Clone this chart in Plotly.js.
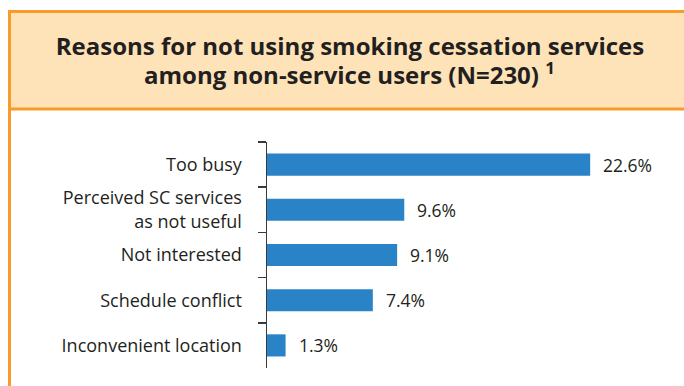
<!DOCTYPE html>
<html>
<head>
<meta charset="utf-8">
<script src="https://cdn.plot.ly/plotly-3.0.1.min.js"></script>
<style>html,body{margin:0;padding:0;background:#fff;}#chart{width:684px;height:386px;}</style>
</head>
<body>
<div id="chart"></div>
<script>
const categories = ["Too busy", "Perceived SC services<br>as not useful", "Not interested", "Schedule conflict", "Inconvenient location"];
const values = [22.6, 9.6, 9.1, 7.4, 1.3];
const valueLabels = ["22.6%", "9.6%", "9.1%", "7.4%", "1.3%"];
const titleLine1 = "Reasons for not using smoking cessation services";
const titleLine2 = "among non-service users (N=230) <sup>1</sup>";

const W = 684, H = 386, L = 267, R = 0, T = 142, B = 18;
const PW = W - L - R, PH = H - T - B;
const px = v => (v - L) / PW;
const py = v => (H - B - v) / PH;

const orange = "#F89B2A";
const beige = "#FEE3B9";
const ink = "#231F20";
const font = "Open Sans, Liberation Sans, sans-serif";

const trace = {
  type: "bar",
  orientation: "h",
  x: values,
  y: categories,
  marker: {color: "#2A83C6"},
  hoverinfo: "skip"
};

const annotations = values.map((v, i) => ({
  x: v, y: categories[i], xref: "x", yref: "y",
  text: valueLabels[i], showarrow: false,
  xanchor: "left", yanchor: "middle", xshift: 11,
  font: {family: font, size: 17.5, color: ink}
}));
annotations.push({
  x: px(349), y: py(73), xref: "paper", yref: "paper",
  text: "<b>" + titleLine2 + "</b>", showarrow: false,
  xanchor: "center", yanchor: "middle",
  font: {family: font, size: 24, color: ink}
});

const shapes = [
  {type: "rect", xref: "paper", yref: "paper", x0: px(9.5), x1: px(720), y0: py(11.5), y1: py(109), fillcolor: beige, line: {width: 0}, layer: "below"},
  {type: "line", xref: "paper", yref: "paper", x0: px(8), x1: px(720), y0: py(11.5), y1: py(11.5), line: {color: orange, width: 3}},
  {type: "line", xref: "paper", yref: "paper", x0: px(8), x1: px(720), y0: py(109), y1: py(109), line: {color: orange, width: 3}},
  {type: "line", xref: "paper", yref: "paper", x0: px(9.5), x1: px(9.5), y0: py(10), y1: py(400), line: {color: orange, width: 3}}
];

const layout = {
  width: W, height: H,
  margin: {l: L, r: R, t: T, b: B, pad: 0},
  paper_bgcolor: "#fff", plot_bgcolor: "rgba(0,0,0,0)",
  showlegend: false,
  bargap: 0.51,
  title: {
    text: "<b>" + titleLine1 + "</b>",
    font: {family: font, size: 24, color: ink},
    x: 350 / W, xref: "container", xanchor: "center",
    y: 1 - 47 / H, yref: "container", yanchor: "middle"
  },
  xaxis: {
    range: [0, PW / 14.3], visible: false, fixedrange: true
  },
  yaxis: {
    type: "category",
    range: [4.5, -0.5],
    showgrid: false, zeroline: false,
    showline: true, linecolor: "#3a3a3a", linewidth: 1.5,
    ticks: "outside", ticklen: 8, tickwidth: 1.5, tickcolor: "#3a3a3a",
    tickson: "boundaries",
    ticklabelstandoff: 20,
    tickfont: {family: font, size: 18, color: ink},
    fixedrange: true
  },
  shapes: shapes,
  annotations: annotations
};

Plotly.newPlot("chart", [trace], layout, {displayModeBar: false, staticPlot: true});
</script>
</body>
</html>
